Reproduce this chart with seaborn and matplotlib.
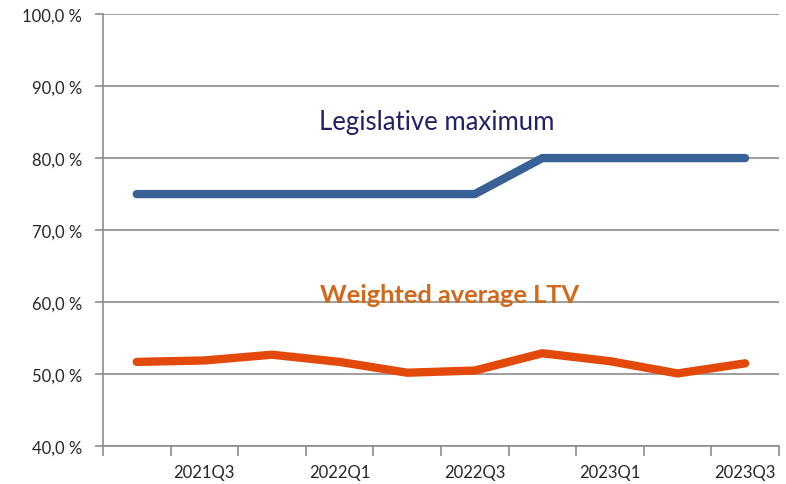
import matplotlib
matplotlib.use("Agg")
import matplotlib.pyplot as plt
from matplotlib.ticker import FixedLocator, FuncFormatter
import seaborn as sns
import pandas as pd

quarters = ["2021Q2", "2021Q3", "2021Q4", "2022Q1", "2022Q2",
            "2022Q3", "2022Q4", "2023Q1", "2023Q2", "2023Q3"]
legislative_max = [75, 75, 75, 75, 75, 75, 80, 80, 80, 80]
weighted_ltv = [51.7, 51.9, 52.7, 51.7, 50.2, 50.5, 52.9, 51.8, 50.1, 51.5]

df = pd.DataFrame({"quarter": quarters, "max": legislative_max, "ltv": weighted_ltv})
df["pos"] = range(len(df))

sns.set_style("white")
plt.rcParams["font.family"] = ["Lato", "DejaVu Sans"]

fig = plt.figure(figsize=(7.86, 4.85), dpi=100)
ax = fig.add_axes([0.131, 0.078, 0.860, 0.891])

grid_col = "#8c8c8c"
sns.lineplot(data=df, x="pos", y="max", ax=ax, color="#386196", linewidth=6,
             solid_capstyle="round", solid_joinstyle="round", zorder=3)
sns.lineplot(data=df, x="pos", y="ltv", ax=ax, color="#e2490b", linewidth=6,
             solid_capstyle="round", solid_joinstyle="round", zorder=3)

ax.set_xlim(-0.5, len(quarters) - 0.5)
ax.set_ylim(40, 100)
ax.set_yticks(range(40, 101, 10))
ax.yaxis.set_major_formatter(FuncFormatter(lambda v, p: f"{v:.1f} %".replace(".", ",")))
ax.yaxis.grid(True, color=grid_col, linewidth=1.2)
ax.set_axisbelow(True)

label_idx = [1, 3, 5, 7, 9]
ax.set_xticks(label_idx)
ax.set_xticklabels([quarters[i] for i in label_idx])
ax.xaxis.set_minor_locator(FixedLocator([i + 0.5 for i in range(-1, len(quarters))]))
ax.tick_params(axis="x", which="major", length=0, pad=13, labelsize=12, labelcolor="#262626")
ax.tick_params(axis="x", which="minor", length=7, width=1.2, color=grid_col, direction="out")
ax.tick_params(axis="y", length=6, width=1.2, color=grid_col, direction="out", pad=9,
               labelsize=12, labelcolor="#262626")
ax.tick_params(bottom=True, left=True, which="both")

for side in ["top", "right"]:
    ax.spines[side].set_visible(False)
for side in ["left", "bottom"]:
    ax.spines[side].set_color(grid_col)
    ax.spines[side].set_linewidth(1.2)

ax.set_xlabel("")
ax.set_ylabel("")

ax.text(4.43, 85.1, "Legislative maximum", ha="center", va="center",
        fontsize=18.5, color="#23206a")
ax.text(4.63, 61.1, "Weighted average LTV", ha="center", va="center",
        fontsize=18.3, fontweight="bold", color="#d2691a")

fig.savefig("out.png", dpi=100)
plt.close(fig)
